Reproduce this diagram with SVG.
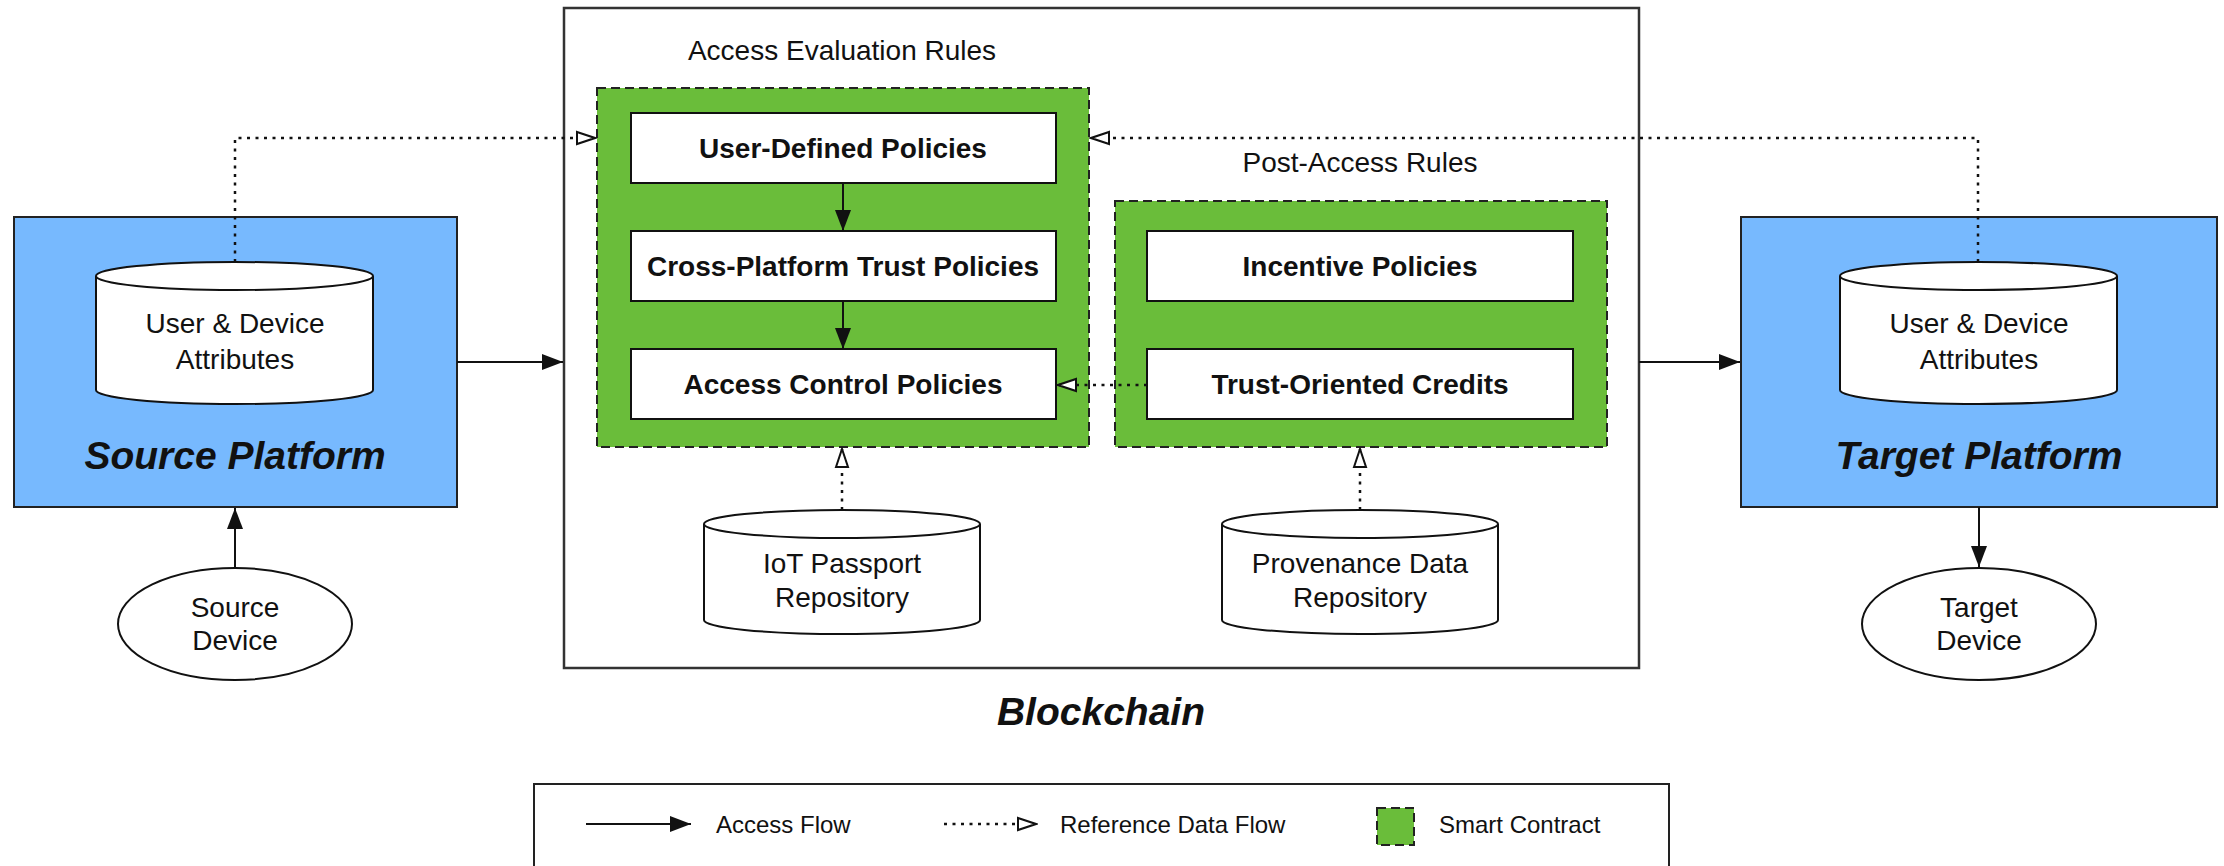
<svg xmlns="http://www.w3.org/2000/svg" width="2224" height="866" viewBox="0 0 2224 866">
  <defs>
    <style>
      .txt { font-family: "Liberation Sans", Arial, Helvetica, sans-serif; fill: #111; }
      .lbl { font-size: 28px; text-anchor: middle; }
      .bold { font-size: 28px; font-weight: bold; text-anchor: middle; }
      .big { font-size: 39px; font-weight: bold; font-style: italic; text-anchor: middle; }
      .leg { font-size: 24px; }
      .platform { fill: #77b9fe; stroke: #222; stroke-width: 2; }
      .contract { fill: #6abd3a; stroke: #222; stroke-width: 2; stroke-dasharray: 9 5; }
      .policy { fill: #fff; stroke: #111; stroke-width: 2; }
      .store { fill: #fff; stroke: #111; stroke-width: 2; }
      .frame { fill: #fff; stroke: #333; stroke-width: 2.5; }
      .access { fill: none; stroke: #111; stroke-width: 2; marker-end: url(#solidHead); }
      .ref { fill: none; stroke: #111; stroke-width: 2.5; stroke-dasharray: 3 5.5; marker-end: url(#openHead); }
    </style>
    <marker id="solidHead" markerUnits="userSpaceOnUse" viewBox="0 0 21 16" refX="21" refY="8" markerWidth="21" markerHeight="16" orient="auto">
      <path d="M0,0 L21,8 L0,16 z" fill="#111"/>
    </marker>
    <marker id="openHead" markerUnits="userSpaceOnUse" viewBox="0 0 22 16" refX="20" refY="8" markerWidth="22" markerHeight="16" orient="auto">
      <path d="M2,2 L20,8 L2,14 z" fill="#fff" stroke="#111" stroke-width="2"/>
    </marker>
  </defs>

  <rect width="2224" height="866" fill="#fff"/>

  <!-- Blockchain container -->
  <g id="blockchain">
    <rect class="frame" x="564" y="8" width="1075" height="660"/>
    <text class="txt big" x="1101" y="725">Blockchain</text>
  </g>

  <!-- Access evaluation smart contract -->
  <g id="access-evaluation-rules">
    <text class="txt lbl" x="842" y="60">Access Evaluation Rules</text>
    <rect class="contract" x="597" y="88" width="492" height="359"/>
  </g>
  <g id="user-defined-policies">
    <rect class="policy" x="631" y="113" width="425" height="70"/>
    <text class="txt bold" x="843" y="158">User-Defined Policies</text>
  </g>
  <g id="cross-platform-trust-policies">
    <rect class="policy" x="631" y="231" width="425" height="70"/>
    <text class="txt bold" x="843" y="276">Cross-Platform Trust Policies</text>
  </g>
  <g id="access-control-policies">
    <rect class="policy" x="631" y="349" width="425" height="70"/>
    <text class="txt bold" x="843" y="394">Access Control Policies</text>
  </g>

  <!-- Post-access smart contract -->
  <g id="post-access-rules">
    <text class="txt lbl" x="1360" y="172">Post-Access Rules</text>
    <rect class="contract" x="1115" y="201" width="492" height="246"/>
  </g>
  <g id="incentive-policies">
    <rect class="policy" x="1147" y="231" width="426" height="70"/>
    <text class="txt bold" x="1360" y="276">Incentive Policies</text>
  </g>
  <g id="trust-oriented-credits">
    <rect class="policy" x="1147" y="349" width="426" height="70"/>
    <text class="txt bold" x="1360" y="394">Trust-Oriented Credits</text>
  </g>

  <!-- On-chain repositories -->
  <g id="iot-passport-repository">
    <path class="store" d="M704,524 V620 A138,14 0 0 0 980,620 V524"/>
    <ellipse class="store" cx="842" cy="524" rx="138" ry="14"/>
    <text class="txt lbl" x="842" y="573">IoT Passport</text>
    <text class="txt lbl" x="842" y="607">Repository</text>
  </g>
  <g id="provenance-data-repository">
    <path class="store" d="M1222,524 V620 A138,14 0 0 0 1498,620 V524"/>
    <ellipse class="store" cx="1360" cy="524" rx="138" ry="14"/>
    <text class="txt lbl" x="1360" y="573">Provenance Data</text>
    <text class="txt lbl" x="1360" y="607">Repository</text>
  </g>

  <!-- Source side -->
  <g id="source-platform">
    <rect class="platform" x="14" y="217" width="443" height="290"/>
    <text class="txt big" x="235" y="469">Source Platform</text>
  </g>
  <g id="source-attributes">
    <path class="store" d="M96,276 V390 A138.5,14 0 0 0 373,390 V276"/>
    <ellipse class="store" cx="234.5" cy="276" rx="138.5" ry="14"/>
    <text class="txt lbl" x="235" y="333">User &amp; Device</text>
    <text class="txt lbl" x="235" y="369">Attributes</text>
  </g>
  <g id="source-device">
    <ellipse class="store" cx="235" cy="624" rx="117" ry="56"/>
    <text class="txt lbl" x="235" y="617">Source</text>
    <text class="txt lbl" x="235" y="650">Device</text>
  </g>

  <!-- Target side -->
  <g id="target-platform">
    <rect class="platform" x="1741" y="217" width="476" height="290"/>
    <text class="txt big" x="1979" y="469">Target Platform</text>
  </g>
  <g id="target-attributes">
    <path class="store" d="M1840,276 V390 A138.5,14 0 0 0 2117,390 V276"/>
    <ellipse class="store" cx="1978.5" cy="276" rx="138.5" ry="14"/>
    <text class="txt lbl" x="1979" y="333">User &amp; Device</text>
    <text class="txt lbl" x="1979" y="369">Attributes</text>
  </g>
  <g id="target-device">
    <ellipse class="store" cx="1979" cy="624" rx="117" ry="56"/>
    <text class="txt lbl" x="1979" y="617">Target</text>
    <text class="txt lbl" x="1979" y="650">Device</text>
  </g>

  <!-- Connectors -->
  <g id="connectors">
    <!-- access flow -->
    <path class="access" d="M235,568 V508"/>
    <path class="access" d="M457,362 H563"/>
    <path class="access" d="M1639,362 H1740"/>
    <path class="access" d="M1979,507 V567"/>
    <path class="access" d="M843,183 V231"/>
    <path class="access" d="M843,301 V349"/>
    <!-- reference data flow -->
    <path class="ref" d="M235,262 V138 H595"/>
    <path class="ref" d="M1978,262 V138 H1091"/>
    <path class="ref" d="M1147,385 H1058"/>
    <path class="ref" d="M842,510 V449"/>
    <path class="ref" d="M1360,510 V449"/>
  </g>

  <!-- Legend -->
  <g id="legend">
    <rect x="534" y="784" width="1135" height="100" fill="#fff" stroke="#222" stroke-width="2"/>
    <path class="access" d="M586,824 H691"/>
    <text class="txt leg" x="716" y="833">Access Flow</text>
    <path class="ref" d="M944,824 H1036"/>
    <text class="txt leg" x="1060" y="833">Reference Data Flow</text>
    <rect class="contract" x="1377" y="808" width="37" height="37"/>
    <text class="txt leg" x="1439" y="833">Smart Contract</text>
  </g>
</svg>
